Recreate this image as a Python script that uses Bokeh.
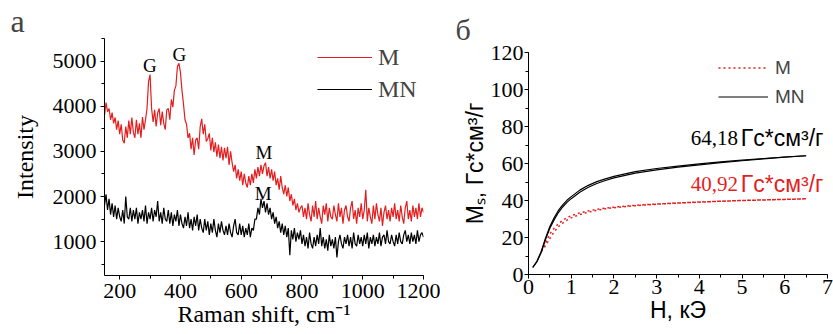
from bokeh.plotting import figure
from bokeh.layouts import row, column
from bokeh.models import Legend, LegendItem, SingleIntervalTicker, Range1d, Title
from bokeh.core.properties import value
from bokeh.embed import file_html
from bokeh.resources import INLINE

# ---------------- Panel a: Raman spectra ----------------
raman_start = 150
raman_step = 5
m_intensity = [
    3800, 4080, 3880, 3950, 3700, 3860, 3620, 3750, 3480, 3680,
    3380, 3600, 3250, 3180, 3550, 3300, 3680, 3380, 3750, 3420,
    3300, 3700, 3380, 3620, 3300, 3760, 3480, 3700, 3950, 4550,
    4700, 3950, 3650, 3920, 3550, 3850, 3950, 3580, 3880, 3620,
    3480, 3920, 3950, 3700, 4150, 3980, 4350, 4450, 4880, 4950,
    4750, 4350, 4050, 3700, 3600, 3300, 3400, 3050, 3300, 2920,
    3250, 3300, 3050, 3550, 3720, 3380, 3600, 3220, 3280, 3400,
    3020, 3300, 2980, 3200, 2880, 3150, 2850, 3100, 2800, 3080,
    2850, 3100, 2700, 3000, 2750, 2550, 2700, 2400, 2600, 2350,
    2550, 2250, 2500, 2300, 2200, 2450, 2250, 2500, 2300, 2600,
    2400, 2650, 2450, 2700, 2500, 2680, 2750, 2450, 2650, 2400,
    2600, 2350, 2550, 2250, 2400, 2150, 2450, 2200, 2050, 2250,
    2000, 2200, 1900, 2050, 1800, 1950, 1700, 1850, 1650, 1750,
    1800, 1550, 1750, 1500, 1850, 1600, 1450, 1800, 1550, 1900,
    1500, 1750, 1550, 1400, 1800, 1600, 1850, 1450, 1750, 1550,
    1500, 1800, 1600, 1450, 1850, 1550, 1750, 1400, 1700, 1800,
    1550, 1450, 1750, 1900, 1500, 1700, 1400, 1750, 1550, 1850,
    1500, 1700, 2150, 1450, 1750, 1550, 1400, 1800, 1500, 1850,
    1600, 1450, 1750, 1350, 1650, 1800, 1500, 1700, 1450, 1750,
    1550, 1850, 1500, 1700, 1450, 1800, 1550, 1400, 1750, 1900,
    1500, 1700, 1450, 1800, 1550, 1750, 1500, 1850, 1550, 1750,
    1650,
]
mn_intensity = [
    1800, 2050, 1700, 1950, 1600, 1850, 1550, 1800, 1500, 1750,
    1550, 1450, 1700, 1400, 2000, 1550, 1500, 1750, 1450, 1700,
    1500, 1750, 1400, 1650, 1500, 1700, 1450, 1800, 1400, 1650,
    1500, 1750, 1450, 1700, 1550, 1900, 1450, 1650, 1400, 1750,
    1500, 1450, 1700, 1400, 1650, 1350, 1600, 1450, 1700, 1350,
    1600, 1400, 1300, 1550, 1350, 1650, 1300, 1500, 1250, 1550,
    1350, 1600, 1250, 1500, 1300, 1200, 1500, 1250, 1450, 1150,
    1400, 1200, 1500, 1250, 1100, 1400, 1200, 1450, 1250, 1150,
    1350, 1150, 1400, 1200, 1100, 1350, 1500, 1200, 1150, 1400,
    1150, 1350, 1100, 1300, 1150, 1400, 1100, 1300, 1250, 1500,
    1500, 1750, 1600, 1950, 1750, 1900, 1650, 1850, 1600, 1750,
    1500, 1650, 1400, 1550, 1300, 1450, 1200, 1400, 1150, 1350,
    1100, 1300, 700, 1250, 1050, 1300, 1000, 1200, 1050, 1250,
    950, 1150, 900, 1100, 850, 1200, 950, 850, 1100, 900,
    1150, 950, 1300, 900, 1100, 850, 1050, 800, 1150, 900,
    1050, 850, 1100, 650, 1000, 1150, 950, 850, 1100, 950,
    1150, 900, 1100, 850, 1200, 950, 900, 1150, 950, 1100,
    900, 1150, 950, 1200, 850, 1100, 950, 1150, 900, 1100,
    950, 1200, 900, 1100, 1150, 950, 1250, 1000, 950, 1150,
    1000, 900, 1150, 950, 1200, 1000, 950, 1150, 1250, 1000,
    1150, 950, 1200, 1000, 1150, 950, 1250, 1000, 1150, 1200,
    1100,
]
raman_shift = [raman_start + raman_step * i for i in range(len(m_intensity))]

peak_labels = ["G", "G", "M", "M"]
peak_shift = [299, 396, 675, 672]
peak_intensity = [4900, 5150, 2980, 2060]

# ---------------- Panel б: magnetization ----------------
h_mn = [0.1, 0.2, 0.3, 0.4, 0.5, 0.6, 0.7, 0.8, 0.9, 1.0, 1.2, 1.4, 1.6, 1.8,
        2.0, 2.5, 3.0, 3.5, 4.0, 4.5, 5.0, 5.5, 6.0, 6.5]
ms_mn_up = [3.8, 7.0, 12.0, 19.0, 25.0, 29.5, 33.5, 36.5, 39.0, 41.0, 44.5, 47.2,
            49.2, 50.8, 52.2, 54.8, 56.6, 58.0, 59.3, 60.5, 61.5, 62.5, 63.4, 64.18]
ms_mn_down = [3.8, 7.3, 12.6, 19.8, 26.0, 30.6, 34.6, 37.6, 40.1, 42.1, 45.6, 48.2,
              50.2, 51.7, 53.0, 55.6, 57.3, 58.6, 59.8, 60.9, 61.8, 62.7, 63.5, 64.18]
h_m = [0.3, 0.4, 0.5, 0.6, 0.7, 0.8, 0.9, 1.0, 1.2, 1.4, 1.6, 1.8, 2.0, 2.5,
       3.0, 3.5, 4.0, 4.5, 5.0, 5.5, 6.0, 6.5]
ms_m_up = [12.5, 17.0, 22.0, 25.0, 27.5, 29.3, 30.7, 31.8, 33.3, 34.4, 35.2, 35.9,
           36.4, 37.4, 38.1, 38.7, 39.2, 39.6, 40.0, 40.3, 40.6, 40.92]
ms_m_down = [12.5, 15.5, 19.5, 23.0, 25.8, 27.8, 29.4, 30.6, 32.4, 33.7, 34.7, 35.5,
             36.1, 37.2, 38.0, 38.6, 39.1, 39.6, 40.0, 40.3, 40.6, 40.92]

annot_values = ["64,18", "40,92"]
annot_unit = "Гс*см³/г"
annot_h = [3.80, 3.80]
annot_ms = [74, 49]
annot_unit_h = [4.97, 4.97]

RED = "#e41e1e"
SERIF = "Liberation Serif"
SANS = "Liberation Sans"


def style_axes(p, tick_font, tick_size, label_font, label_size):
    p.outline_line_color = None
    p.xgrid.visible = False
    p.ygrid.visible = False
    for ax in (p.xaxis[0], p.yaxis[0]):
        ax.axis_line_color = "black"
        ax.major_tick_line_color = "black"
        ax.minor_tick_line_color = "black"
        ax.major_tick_in = 0
        ax.major_tick_out = 4
        ax.minor_tick_in = 0
        ax.minor_tick_out = 3
        ax.major_label_text_font = tick_font
        ax.major_label_text_font_size = tick_size
        ax.major_label_text_color = "black"
        ax.major_label_standoff = 1
        ax.axis_label_text_font = label_font
        ax.axis_label_text_font_size = label_size
        ax.axis_label_text_font_style = "normal"
        ax.axis_label_text_color = "black"
        ax.axis_label_standoff = 0


# ---- left figure
p1 = figure(width=440, height=334, output_backend="svg", toolbar_location=None,
            x_range=Range1d(150, 1200), y_range=Range1d(250, 5500),
            title=Title(text="a", align="left", offset=-94, standoff=0,
                        text_font=SERIF, text_font_size="32px", text_font_style="normal"),
            min_border_left=104, min_border_right=17, min_border_top=38, min_border_bottom=59)
r_m = p1.line(raman_shift, m_intensity, line_color=RED, line_width=1.2)
r_mn = p1.line(raman_shift, mn_intensity, line_color="black", line_width=1.2)
p1.text(x=peak_shift, y=peak_intensity, text=peak_labels, text_align="center",
        text_baseline="middle", text_font=value(SERIF), text_font_size="19px", text_color="black")
p1.xaxis.ticker = SingleIntervalTicker(interval=200, num_minor_ticks=2)
p1.yaxis.ticker = SingleIntervalTicker(interval=1000, num_minor_ticks=2)
p1.xaxis.axis_label = "Raman shift, cm⁻¹"
p1.yaxis.axis_label = "Intensity"
style_axes(p1, SERIF, "22px", SERIF, "24px")
p1.xaxis.major_label_standoff = 4
p1.yaxis.major_label_standoff = 4
p1.yaxis.axis_label_standoff = 12
leg1 = Legend(items=[LegendItem(label="M", renderers=[r_m]), LegendItem(label="MN", renderers=[r_mn])],
              location=(213, 170), border_line_color=None, background_fill_alpha=0,
              padding=0, margin=0, spacing=0, glyph_width=55, glyph_height=32, label_height=32,
              label_standoff=6, label_text_font=SERIF, label_text_font_size="24px")
p1.add_layout(leg1)

# ---- right figure
p2 = figure(width=393, height=334, output_backend="svg", toolbar_location=None,
            x_range=Range1d(0, 7), y_range=Range1d(0, 120),
            title=Title(text="б", align="left", offset=-73, standoff=13,
                        text_font=SERIF, text_font_size="30px", text_font_style="normal"),
            min_border_left=88, min_border_right=6, min_border_top=52, min_border_bottom=60)
r_m2 = p2.line(h_m, ms_m_up, line_color=RED, line_width=1.5, line_dash="2 3")
p2.line(h_m, ms_m_down, line_color=RED, line_width=1.5, line_dash="2 3")
r_mn2 = p2.line(h_mn, ms_mn_up, line_color="black", line_width=1.2)
p2.line(h_mn, ms_mn_down, line_color="black", line_width=1.2)
p2.text(x=annot_h, y=annot_ms, text=annot_values, text_color=["black", RED],
        text_align="left", text_baseline="middle", text_font=value(SERIF), text_font_size="21px")
p2.text(x=annot_unit_h, y=annot_ms, text=[annot_unit, annot_unit], text_color=["black", RED],
        text_align="left", text_baseline="middle", text_font=value(SANS), text_font_size="23px")
p2.xaxis.ticker = SingleIntervalTicker(interval=1, num_minor_ticks=2)
p2.yaxis.ticker = SingleIntervalTicker(interval=20, num_minor_ticks=2)
p2.xaxis.axis_label = "H, кЭ"
p2.yaxis.axis_label = "Mₛ, Гс*см³/г"
style_axes(p2, SERIF, "22px", SANS, "23px")
p2.yaxis.axis_label_standoff = 0
leg2 = Legend(items=[LegendItem(label="M", renderers=[r_m2]), LegendItem(label="MN", renderers=[r_mn2])],
              location=(190, 163), border_line_color=None, background_fill_alpha=0,
              padding=0, margin=0, spacing=0, glyph_width=50, glyph_height=29, label_height=29,
              label_standoff=7, label_text_font=SANS, label_text_font_size="19px")
p2.add_layout(leg2)

layout = row(column(p1), column(p2))
open("out.html", "w").write(file_html(layout, INLINE))
